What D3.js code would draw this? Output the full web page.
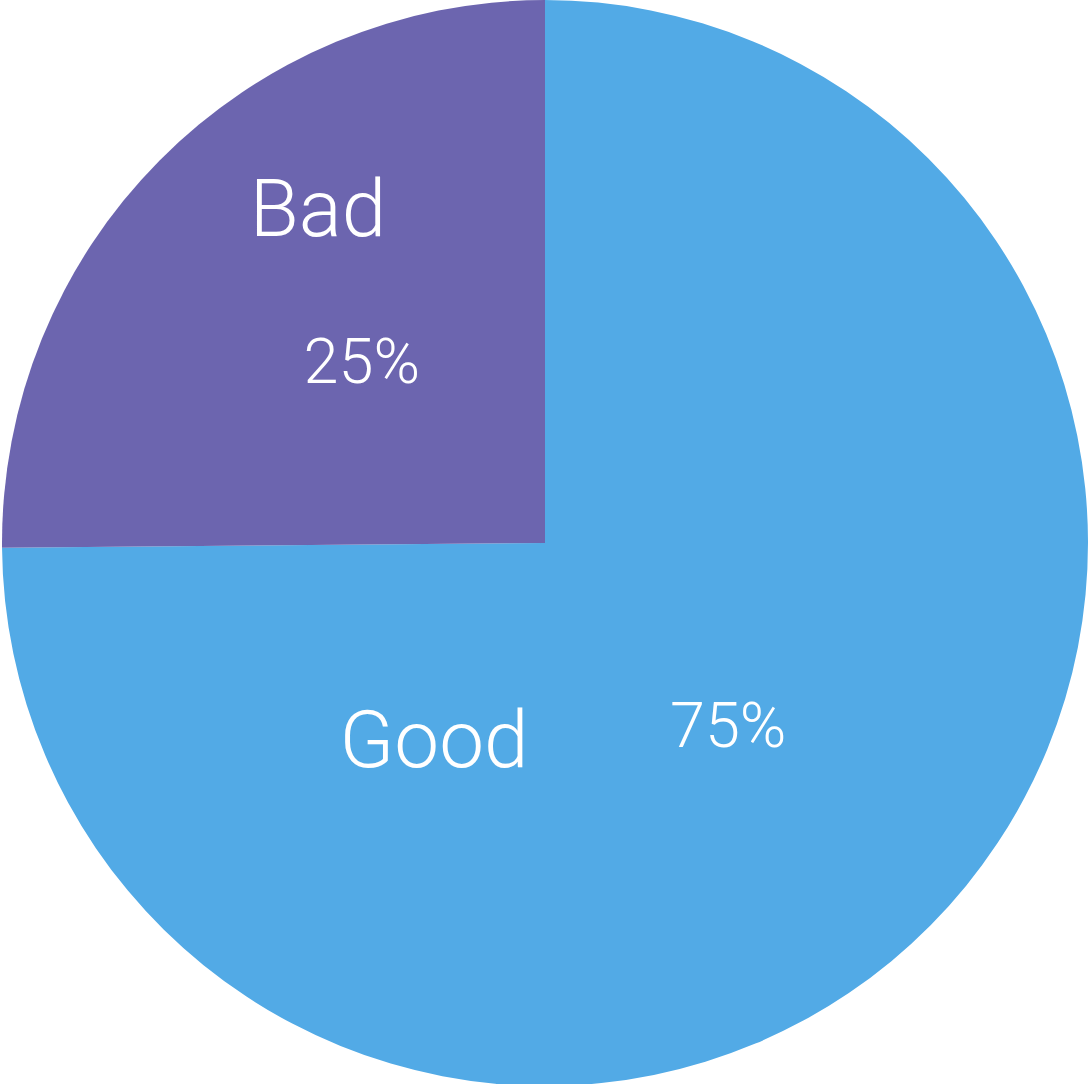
<!DOCTYPE html>
<html>
<head>
<meta charset="utf-8">
<script src="https://cdn.jsdelivr.net/npm/d3@7"></script>
<style>
  html, body { margin: 0; padding: 0; background: #ffffff; }
  svg { display: block; }
  text { font-family: Roboto, "Liberation Sans", sans-serif; font-weight: 300; fill: #ffffff; }
</style>
</head>
<body>
<svg id="chart" width="1089" height="1084"></svg>
<script>
// Data
const categories = ["Good", "Bad"];
const values = [74.86, 25.14];
const colors = ["#52aae6", "#6c65af"];
const percentLabels = ["75%", "25%"];

const width = 1089, height = 1084;
const cx = 545, cy = 543, R = 543;

const svg = d3.select("#chart");
const g = svg.append("g").attr("transform", `translate(${cx},${cy})`);

const data = categories.map((c, i) => ({ name: c, value: values[i], color: colors[i], pct: percentLabels[i] }));

const pie = d3.pie().sort(null).value(d => d.value);
const arc = d3.arc().innerRadius(0).outerRadius(R);
const labelArc = d3.arc().innerRadius(R * 0.475).outerRadius(R * 0.475);

const arcs = pie(data);

g.selectAll("path.slice")
  .data(arcs)
  .join("path")
  .attr("class", "slice")
  .attr("d", arc)
  .attr("fill", d => d.data.color);

// percentage labels at slice centroids
g.selectAll("text.pct")
  .data(arcs)
  .join("text")
  .attr("class", "pct")
  .attr("text-anchor", "middle")
  .attr("font-size", 63)
  .attr("x", d => labelArc.centroid(d)[0])
  .attr("y", d => labelArc.centroid(d)[1] + 22)
  .text(d => d.data.pct);

// category name labels (layout offsets relative to centre)
const nameOffsets = { Good: [-111, 224], Bad: [-227, -307] };
g.selectAll("text.name")
  .data(arcs)
  .join("text")
  .attr("class", "name")
  .attr("text-anchor", "middle")
  .attr("font-size", 80)
  .attr("x", d => nameOffsets[d.data.name][0])
  .attr("y", d => nameOffsets[d.data.name][1])
  .text(d => d.data.name);
</script>
</body>
</html>
